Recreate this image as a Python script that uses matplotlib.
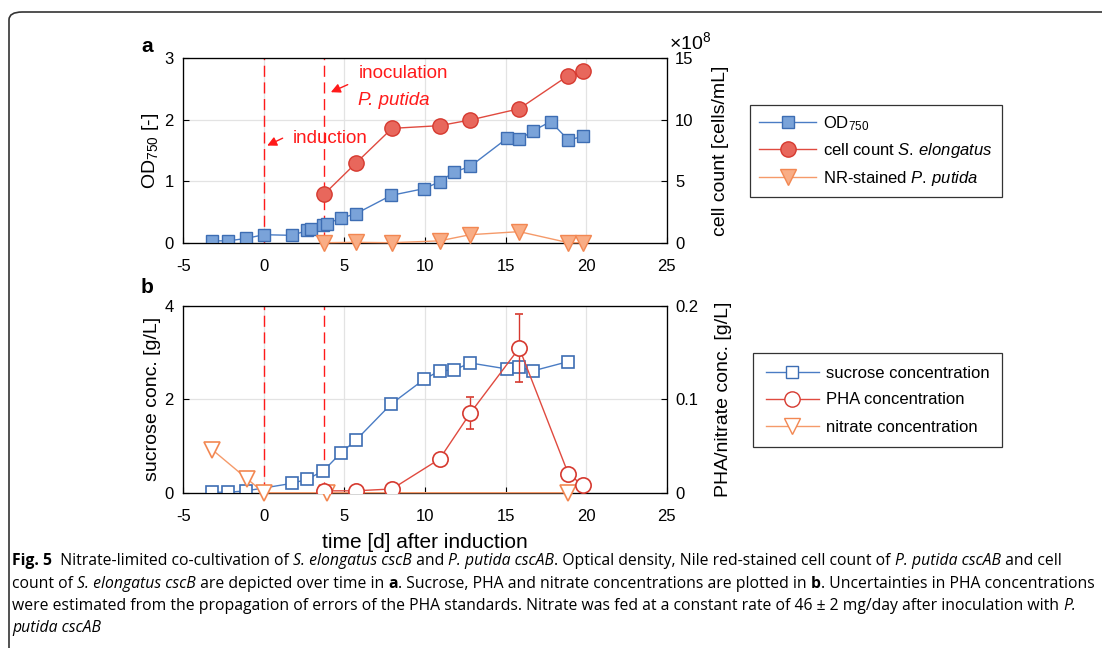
import matplotlib
matplotlib.use("Agg")
import matplotlib.pyplot as plt
from matplotlib.patches import FancyBboxPatch
from matplotlib.lines import Line2D
from matplotlib import font_manager as fm

avail = {f.name for f in fm.fontManager.ttflist}
main_font = next((f for f in ['Liberation Sans', 'Arimo', 'Roboto', 'DejaVu Sans'] if f in avail), 'DejaVu Sans')
cap_main = next((f for f in ['Liberation Sans Narrow', 'Open Sans', 'Liberation Sans', 'DejaVu Sans'] if f in avail), 'DejaVu Sans')

plt.rcParams['font.family'] = [main_font, 'DejaVu Sans']
plt.rcParams['axes.unicode_minus'] = False
plt.rcParams['mathtext.fontset'] = 'custom'
plt.rcParams['mathtext.rm'] = main_font
plt.rcParams['mathtext.it'] = main_font + ':italic'
plt.rcParams['mathtext.bf'] = main_font + ':bold'

# ---------------- data ----------------
od_t = [-3.2, -2.2, -1.1, 0.0, 1.75, 2.7, 2.9, 3.7, 3.9, 4.8, 5.7, 7.9, 9.95, 10.9, 11.8, 12.8,
        15.1, 15.85, 16.7, 17.8, 18.9, 19.8]
od_v = [0.03, 0.03, 0.07, 0.13, 0.12, 0.20, 0.22, 0.28, 0.31, 0.40, 0.47, 0.77, 0.88, 0.99, 1.15, 1.24,
        1.70, 1.68, 1.82, 1.97, 1.67, 1.73]

cc_t = [3.75, 5.7, 7.95, 10.9, 12.8, 15.85, 18.9, 19.8]
cc_v = [3.96, 6.46, 9.3, 9.52, 9.98, 10.9, 13.6, 13.95]   # x 1e8 cells/mL
cc_e = [0, 0, 0, 0, 0, 0, 0.4, 0]

nr_t = [3.75, 5.7, 7.95, 10.9, 12.8, 15.85, 18.9, 19.8]
nr_v = [0.0, 0.03, 0.0, 0.15, 0.65, 0.9, 0.0, 0.0]       # x 1e8 cells/mL

suc_t = [-3.2, -2.2, -1.1, 1.75, 2.7, 3.7, 4.8, 5.7, 7.9, 9.95, 10.9, 11.8, 12.8, 15.1, 15.85, 16.7, 18.9]
suc_v = [0.01, 0.01, 0.04, 0.20, 0.29, 0.47, 0.86, 1.12, 1.90, 2.43, 2.61, 2.63, 2.78, 2.65, 2.69, 2.61, 2.81]

pha_t = [3.75, 5.7, 7.95, 10.9, 12.8, 15.85, 18.9, 19.8]
pha_v = [0.002, 0.002, 0.004, 0.036, 0.085, 0.155, 0.020, 0.008]
pha_e = [0.0, 0.0, 0.0, 0.003, 0.017, 0.036, 0.0, 0.0]

nit_t = [-3.2, -1.05, 0.0, 3.9, 18.9]
nit_v = [0.046, 0.015, 0.0, 0.0, 0.0]

induction_t = 0.0
inoculation_t = 3.75

xticks = [-5, 0, 5, 10, 15, 20, 25]

blue_l, blue_e, blue_f = '#4a7cc4', '#3d6db3', '#7aa3d9'
red_l, red_e, red_f = '#e04a3f', '#d6392f', '#e8675c'
or_l, or_e, or_f = '#f59a6a', '#f28752', '#f9ad85'

W, H = 1102, 648
fig = plt.figure(figsize=(W / 100, H / 100), dpi=100)

def fx(px):
    return px / W

def fy(py):
    return 1 - py / H

# border
border = FancyBboxPatch((fx(9), fy(700)), fx(1200), fy(12) - fy(700),
                        boxstyle="round,pad=0,rounding_size=0.012",
                        transform=fig.transFigure, fill=False, ec='#333333', lw=1.2,
                        clip_on=False)
fig.patches.append(border)

axa = fig.add_axes([fx(183.3), fy(242.7), fx(666.7) - fx(183.3), fy(58.3) - fy(242.7)])
axb = fig.add_axes([fx(183.3), fy(492.7), fx(666.7) - fx(183.3), fy(306) - fy(492.7)])

def style(ax):
    ax.set_xlim(-5, 25)
    ax.set_xticks(xticks)
    ax.grid(True, color='#e3e3e3', lw=0.9)
    ax.set_axisbelow(True)
    ax.tick_params(direction='in', length=4, labelsize=12, width=0.8, pad=7)
    ax.tick_params(axis='x', pad=12)
    for s in ax.spines.values():
        s.set_linewidth(0.9)
        s.set_color('#222222')

style(axa)
style(axb)

def style_r(ax):
    ax.tick_params(direction='in', length=4, labelsize=12, width=0.8, pad=6)

# ---------- panel a ----------
axa.set_ylim(0, 3)
axa.set_yticks([0, 1, 2, 3])
axa.set_ylabel('OD$_{750}$ [-]', fontsize=14, labelpad=2)
for t in (induction_t, inoculation_t):
    axa.axvline(t, color='#ff1a1a', lw=1.0, ls=(0, (8, 4)), zorder=1)
axa.plot(od_t, od_v, '-s', color=blue_l, lw=1.0, ms=9, mfc=blue_f, mec=blue_e, mew=1.0, zorder=4)

axa2 = axa.twinx()
axa2.set_ylim(0, 15)
axa2.set_yticks([0, 5, 10, 15])
style_r(axa2)
axa2.set_ylabel('cell count [cells/mL]', fontsize=14, labelpad=13)
axa2.errorbar(cc_t, cc_v, yerr=cc_e, fmt='-o', color=red_l, lw=1.0, ms=11, mfc=red_f, mec=red_e,
              mew=1.0, ecolor=red_e, elinewidth=1.0, capsize=3, zorder=5)
axa2.plot(nr_t, nr_v, '-v', color=or_l, lw=1.0, ms=11, mfc=or_f, mec=or_e, mew=1.0, clip_on=False, zorder=5)
axa2.text(1.005, 1.03, r'$\times\mathregular{10^{8}}$', transform=axa2.transAxes, fontsize=14,
          ha='left', va='bottom')

axa.text(1.82, 1.70, 'induction', color='#ff1a1a', fontsize=13.5, va='center', ha='left', zorder=6)
axa.annotate('', xy=(0.05, 1.56), xytext=(1.32, 1.72),
             arrowprops=dict(arrowstyle='-|>', color='#ff1a1a', lw=1.0, mutation_scale=14))
axa.text(5.86, 2.76, 'inoculation', color='#ff1a1a', fontsize=13.5, va='center', ha='left')
axa.text(5.86, 2.32, 'P. putida', color='#ff1a1a', fontsize=13.5, va='center', ha='left', style='italic')
axa.annotate('', xy=(4.0, 2.43), xytext=(5.36, 2.59),
             arrowprops=dict(arrowstyle='-|>', color='#ff1a1a', lw=1.0, mutation_scale=14))

# ---------- panel b ----------
axb.set_ylim(0, 4)
axb.set_yticks([0, 2, 4])
axb.set_ylabel('sucrose conc. [g/L]', fontsize=14, labelpad=2)
axb.set_xlabel('time [d] after induction', fontsize=15, labelpad=6)
for t in (induction_t, inoculation_t):
    axb.axvline(t, color='#ff1a1a', lw=1.0, ls=(0, (8, 4)), zorder=1)
axb.plot(suc_t, suc_v, '-s', color=blue_l, lw=1.0, ms=9, mfc='white', mec=blue_e, mew=1.2, zorder=4)

axb2 = axb.twinx()
axb2.set_ylim(0, 0.2)
axb2.set_yticks([0, 0.1, 0.2])
axb2.set_yticklabels(['0', '0.1', '0.2'])
style_r(axb2)
axb2.set_ylabel('PHA/nitrate conc. [g/L]', fontsize=14, labelpad=12)
axb2.errorbar(pha_t, pha_v, yerr=pha_e, fmt='-o', color=red_l, lw=1.0, ms=11, mfc='white', mec=red_e,
              mew=1.2, ecolor=red_e, elinewidth=1.0, capsize=3, zorder=5)
axb2.plot(nit_t, nit_v, '-v', color=or_l, lw=1.0, ms=11, mfc='white', mec=or_e, mew=1.2,
          clip_on=False, zorder=5)

# panel letters
fig.text(fx(147), fy(47), 'a', fontsize=15, fontweight='bold', ha='center', va='center')
fig.text(fx(147), fy(287), 'b', fontsize=15, fontweight='bold', ha='center', va='center')

# legends
ha = [Line2D([], [], color=blue_l, lw=1.0, marker='s', ms=9, mfc=blue_f, mec=blue_e),
      Line2D([], [], color=red_l, lw=1.0, marker='o', ms=11, mfc=red_f, mec=red_e),
      Line2D([], [], color=or_l, lw=1.0, marker='v', ms=11, mfc=or_f, mec=or_e)]
la = ['OD$_{750}$', r'cell count $\mathit{S.\,elongatus}$', r'NR-stained $\mathit{P.\,putida}$']
lga = fig.legend(ha, la, loc='upper left', bbox_to_anchor=(fx(750), fy(105)), fontsize=12,
                 frameon=True, fancybox=False, edgecolor='black', handlelength=3.4,
                 borderpad=0.55, labelspacing=0.5, handletextpad=0.45, borderaxespad=0)
lga.get_frame().set_linewidth(0.9)

hb = [Line2D([], [], color=blue_l, lw=1.0, marker='s', ms=9, mfc='white', mec=blue_e),
      Line2D([], [], color=red_l, lw=1.0, marker='o', ms=11, mfc='white', mec=red_e),
      Line2D([], [], color=or_l, lw=1.0, marker='v', ms=11, mfc='white', mec=or_e)]
lb = ['sucrose concentration', 'PHA concentration', 'nitrate concentration']
lgb = fig.legend(hb, lb, loc='upper left', bbox_to_anchor=(fx(753), fy(353)), fontsize=12,
                 frameon=True, fancybox=False, edgecolor='black', handlelength=3.2,
                 borderpad=0.75, labelspacing=0.72, handletextpad=0.45, borderaxespad=0)
lgb.get_frame().set_linewidth(0.9)

# ---------- caption ----------
cap_font = [cap_main, 'DejaVu Sans']
caption = [
    [('Fig. 5', 'b'), ('  Nitrate-limited co-cultivation of ', 'n'), ('S. elongatus cscB', 'i'),
     (' and ', 'n'), ('P. putida cscAB', 'i'),
     ('. Optical density, Nile red-stained cell count of ', 'n'), ('P. putida cscAB', 'i'),
     (' and cell', 'n')],
    [('count of ', 'n'), ('S. elongatus cscB', 'i'), (' are depicted over time in ', 'n'), ('a', 'b'),
     ('. Sucrose, PHA and nitrate concentrations are plotted in ', 'n'), ('b', 'b'),
     ('. Uncertainties in PHA concentrations', 'n')],
    [('were estimated from the propagation of errors of the PHA standards. Nitrate was fed at a constant rate of 46 \u00b1 2 mg/day after inoculation with ', 'n'),
     ('P.', 'i')],
    [('putida cscAB', 'i')],
]
line_y = [565, 588, 610, 632]
fig.canvas.draw()
renderer = fig.canvas.get_renderer()

def line_width(segs, size):
    w = 0
    for txt, st in segs:
        t = fig.text(0, 0, txt, fontsize=size, family=cap_font,
                     fontweight='bold' if st == 'b' else 'normal',
                     style='italic' if st == 'i' else 'normal')
        w += t.get_window_extent(renderer=renderer).width
        t.remove()
    return w

base = 11.5
w1 = line_width(caption[1], base)
cap_size = min(base, base * (1097 - 12) / w1)

for segs, py in zip(caption, line_y):
    x = 12
    for txt, st in segs:
        t = fig.text(fx(x), fy(py), txt, fontsize=cap_size, family=cap_font,
                     fontweight='bold' if st == 'b' else 'normal',
                     style='italic' if st == 'i' else 'normal', va='baseline', ha='left')
        bb = t.get_window_extent(renderer=renderer)
        x += bb.width

fig.savefig('out.png', dpi=100)
